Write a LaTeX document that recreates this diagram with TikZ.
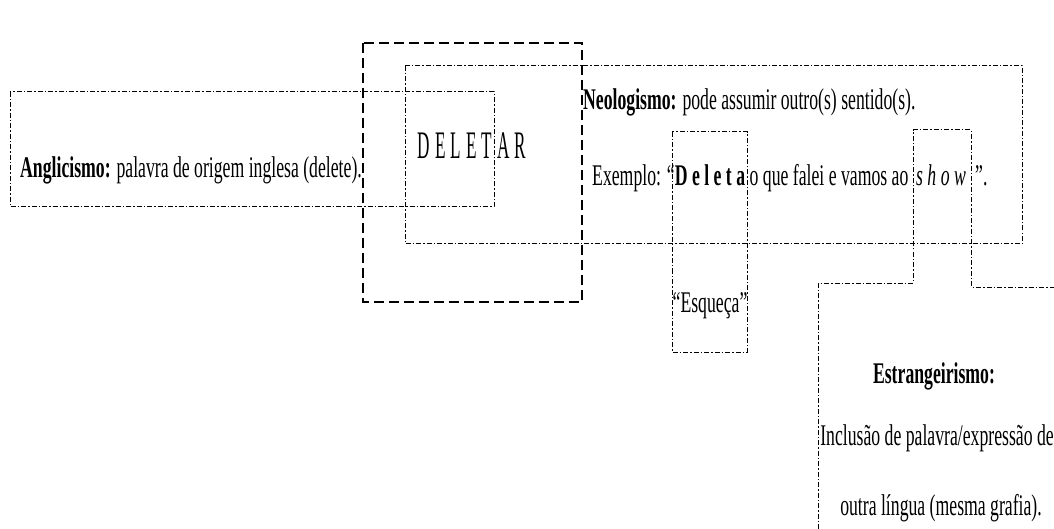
\documentclass[tikz,border=0pt]{standalone}
\usepackage{fontspec}
\setmainfont[FakeStretch=0.59]{Liberation Serif}
\newfontfamily\tallfont[FakeStretch=0.44]{Liberation Serif}
\begin{document}
\begin{tikzpicture}[x=1pt,y=-1pt,
  dotdash/.style={line width=1pt, dash pattern=on 5pt off 2pt on 1.5pt off 2pt},
  bigdash/.style={line width=1.8pt, dash pattern=on 10pt off 5pt},
  txt/.style={inner sep=0pt, font=\fontsize{30}{34}\selectfont},
  lefttxt/.style={txt, anchor=base west},
  midtxt/.style={txt, anchor=base}]
\useasboundingbox (0,0) rectangle (1054,529);

% frames
\draw[bigdash] (363,43) rectangle (582,302);
\draw[dotdash] (10,92) rectangle (494,207);
\draw[dotdash] (405,66) rectangle (1022,244);
\draw[dotdash] (672,132) rectangle (747,352);
% frame around "show" that opens into the foreign-word panel
\draw[dotdash] (818,529) -- (818,283) -- (913,283) -- (913,130) -- (971,130)
  -- (971,287) -- (1054,287);

% central word
\node[inner sep=0pt, anchor=base, font=\tallfont\fontsize{39}{40}\selectfont] (deletar) at (472,159)
  {D\hspace{5pt}E\hspace{5pt}L\hspace{5pt}E\hspace{5pt}T\hspace{5pt}A\hspace{5pt}R};

% left panel
\node[lefttxt] (angl) at (20,178) {\textbf{Anglicismo:} palavra de origem inglesa (delete).};

% right panel
\node[lefttxt] (neo) at (583,110) {\textbf{Neologismo:} pode assumir outro(s) sentido(s).};
\node[lefttxt] (ex1) at (592,186) {Exemplo: “};
\node[midtxt] (ex2) at (710,186) {\textbf{D e l e t a}};
\node[midtxt] (ex3) at (829,186) {o que falei e vamos ao};
\node[midtxt] (ex4) at (941,186) {\textit{s h o w}};
\node[lefttxt] (ex5) at (975,186) {”.};

% meaning below
\node[midtxt] (esq) at (710,312) {“Esqueça”};

% foreign-word panel
\node[midtxt] (estr) at (934,383) {\textbf{Estrangeirismo:}};
\node[midtxt] (inc1) at (937,445) {Inclusão de palavra/expressão de};
\node[midtxt] (inc2) at (941,515) {outra língua (mesma grafia).};
\end{tikzpicture}
\end{document}
